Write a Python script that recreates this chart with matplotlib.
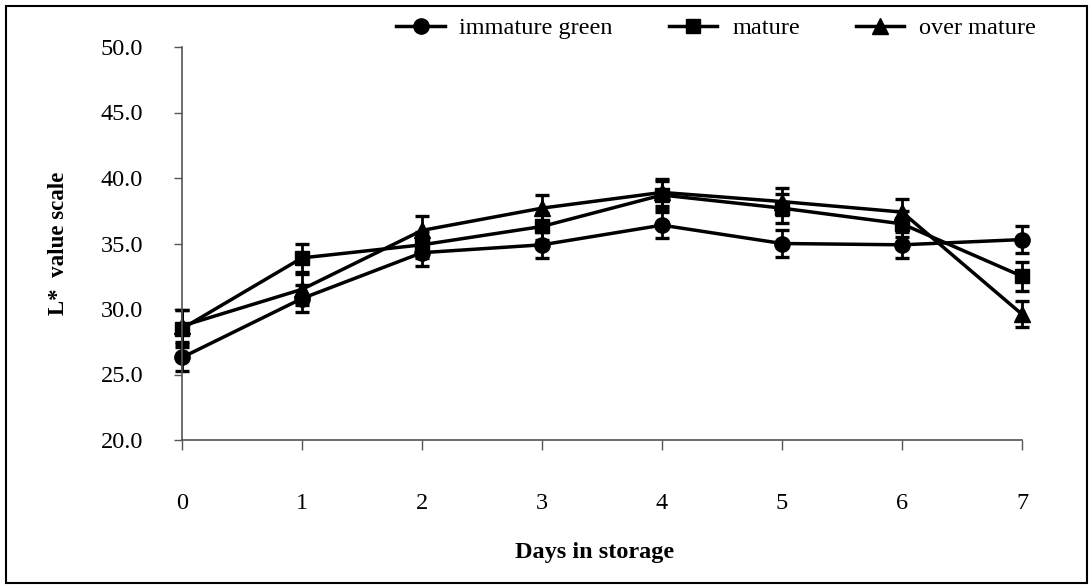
import matplotlib
matplotlib.use("Agg")
import matplotlib.pyplot as plt
from matplotlib.lines import Line2D
from matplotlib.patches import Rectangle

plt.rcParams["font.family"] = ["Liberation Serif", "DejaVu Serif"]

days = [0, 1, 2, 3, 4, 5, 6, 7]

immature = [26.3, 30.8, 34.3, 34.9, 36.4, 35.0, 34.9, 35.3]
immature_err = [1.0, 1.0, 1.0, 1.0, 1.0, 1.0, 1.0, 1.0]

mature = [28.5, 33.9, 34.9, 36.3, 38.7, 37.7, 36.5, 32.5]
mature_err = [1.4, 1.1, 1.0, 1.0, 1.1, 1.1, 1.0, 1.1]

over_mature = [28.7, 31.5, 36.0, 37.7, 38.9, 38.2, 37.4, 29.6]
over_mature_err = [1.2, 1.2, 1.1, 1.0, 1.0, 1.0, 1.0, 1.0]

series = [
    ("immature green", immature, immature_err, "o", 11),
    ("mature", mature, mature_err, "s", 10),
    ("over mature", over_mature, over_mature_err, "^", 11),
]

fig = plt.figure(figsize=(10.92, 5.88), dpi=100)
ax = fig.add_axes([182 / 1092, 1 - 440 / 588, (1022 - 182) / 1092, (440 - 47) / 588])

handles = []
for name, vals, err, mk, ms in series:
    ax.errorbar(days, vals, yerr=err, color="black", marker=mk, markersize=ms,
                linewidth=2.5, elinewidth=2, capsize=5, capthick=2.4,
                clip_on=False)
    handles.append(Line2D([], [], color="black", marker=mk, markersize=ms,
                          linewidth=2.5, label=name))

ax.set_xlim(0, 7)
ax.set_ylim(20, 50)
yticks = [20, 25, 30, 35, 40, 45, 50]
ax.set_yticks(yticks)
ax.set_yticklabels(["%.1f" % v for v in yticks])
ax.set_xticks(days)

for s in ["top", "right"]:
    ax.spines[s].set_visible(False)
for s in ["left", "bottom"]:
    ax.spines[s].set_color("#555555")
    ax.spines[s].set_linewidth(1.2)

ax.tick_params(axis="y", direction="out", length=6, width=1, color="#555555",
               labelsize=17.5, pad=22)
ax.tick_params(axis="x", direction="out", length=7, width=1, color="#555555",
               labelsize=17.5, pad=31)

ax.set_ylabel("L*  value scale", fontsize=16.5, fontweight="bold")
ax.yaxis.set_label_coords(-0.135, 0.5)
ax.set_xlabel("Days in storage", fontsize=17.5, fontweight="bold")
ax.xaxis.set_label_coords(0.4917, -0.2595)

fig.legend(handles=handles, loc="center", bbox_to_anchor=(716 / 1092, 1 - 28 / 588),
           ncol=3, frameon=False, fontsize=17.5, handlelength=2.0,
           handletextpad=0.6, columnspacing=2.3, borderaxespad=0)

# outer frame of the figure
fig.patches.append(Rectangle((6 / 1092, 5 / 588), 1081 / 1092, 577 / 588,
                             transform=fig.transFigure, fill=False,
                             edgecolor="black", linewidth=1.5))

plt.savefig("out.png", dpi=100)
